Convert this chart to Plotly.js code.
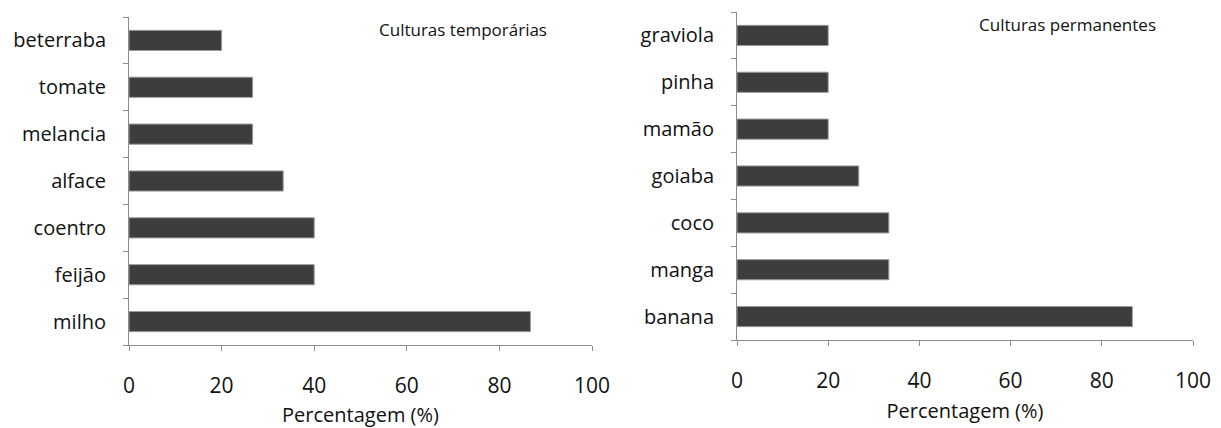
<!DOCTYPE html>
<html><head><meta charset="utf-8">
<script src="https://cdn.plot.ly/plotly-3.0.1.min.js"></script>
<style>html,body{margin:0;padding:0;background:#fff}#c{width:1221px;height:428px}</style>
</head><body><div id="c"></div>
<script>
const tempCategories = ["milho", "feijão", "coentro", "alface", "melancia", "tomate", "beterraba"];
const tempValues = [86.7, 40, 40, 33.3, 26.7, 26.7, 20];
const permCategories = ["banana", "manga", "coco", "goiaba", "mamão", "pinha", "graviola"];
const permValues = [86.7, 33.3, 33.3, 26.7, 20, 20, 20];
const xTicks = [0, 20, 40, 60, 80, 100];
const leftTitle = "Culturas temporárias";
const rightTitle = "Culturas permanentes";
const xTitle = "Percentagem (%)";

const FONT = "'Open Sans', sans-serif";
const barStyle = {color: "#3d3d3d", line: {color: "#9a9a9a", width: 1}};

const traces = [
  {type: "bar", orientation: "h", x: tempValues, y: tempCategories, xaxis: "x", yaxis: "y",
   marker: barStyle, width: 0.43, hoverinfo: "x+y"},
  {type: "bar", orientation: "h", x: permValues, y: permCategories, xaxis: "x2", yaxis: "y2",
   marker: barStyle, width: 0.43, hoverinfo: "x+y"}
];

function xa(domain, anchor) {
  return {domain: domain, anchor: anchor, range: [0, 100], tickvals: xTicks, ticktext: xTicks.map(String),
    showgrid: false, zeroline: false, showline: true, linecolor: "#8c8c8c", linewidth: 1,
    ticks: "outside", ticklen: 5, tickcolor: "#8c8c8c", ticklabelstandoff: 17,
    tickfont: {family: FONT, size: 21, color: "#111"},
    title: {text: xTitle, font: {family: FONT, size: 20, color: "#111"}, standoff: 10},
    automargin: false, fixedrange: true};
}
function ya(domain, anchor, cats) {
  return {domain: domain, anchor: anchor, type: "category", categoryarray: cats, categoryorder: "array",
    showgrid: false, zeroline: false, showline: true, linecolor: "#8c8c8c", linewidth: 1,
    ticks: "outside", ticklen: 5, tickcolor: "#8c8c8c", tickson: "boundaries", ticklabelstandoff: 18,
    tickfont: {family: FONT, size: 20, color: "#111"}, automargin: false, fixedrange: true};
}

const layout = {
  width: 1221, height: 428, margin: {l: 0, r: 0, t: 0, b: 0},
  paper_bgcolor: "#fff", plot_bgcolor: "#fff", showlegend: false,
  xaxis: xa([129/1221, 592/1221], "y"),
  yaxis: ya([(428-345)/428, (428-17)/428], "x", tempCategories),
  xaxis2: xa([737/1221, 1193/1221], "y2"),
  yaxis2: ya([(428-340)/428, (428-12)/428], "x2", permCategories),
  annotations: [
    {text: leftTitle, xref: "paper", yref: "paper", x: 463/1221, y: 1 - 29/428, xanchor: "center", yanchor: "middle",
     showarrow: false, font: {family: FONT, size: 17, color: "#111"}},
    {text: rightTitle, xref: "paper", yref: "paper", x: 1067/1221, y: 1 - 24/428, xanchor: "center", yanchor: "middle",
     showarrow: false, font: {family: FONT, size: 17, color: "#111"}}
  ]
};
Plotly.newPlot("c", traces, layout, {staticPlot: true, displayModeBar: false});
</script></body></html>
